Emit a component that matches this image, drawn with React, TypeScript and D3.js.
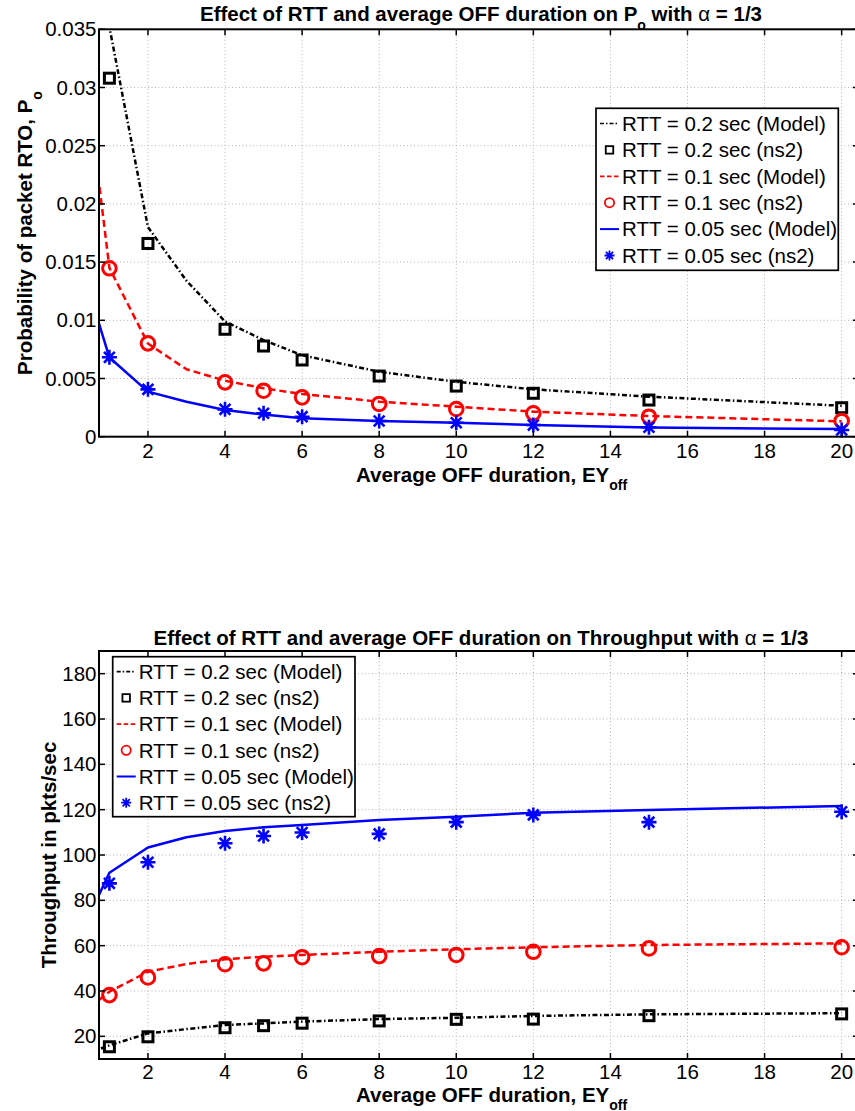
import React from "react";
import * as d3 from "d3";

// ---------- data ----------
const X_TICKS = [2, 4, 6, 8, 10, 12, 14, 16, 18, 20];
const NS2_X = [1, 2, 4, 5, 6, 8, 10, 12, 15, 20];
const MODEL_X = [0.5, 1, 2, 3, 4, 5, 6, 8, 10, 12, 15, 20];

const PO_TICKS = [0, 0.005, 0.01, 0.015, 0.02, 0.025, 0.03, 0.035];
const PO_MODEL_RTT02 = [0.07, 0.0352, 0.018, 0.0134, 0.0099, 0.0083, 0.007, 0.00558, 0.00472, 0.00407, 0.00344, 0.00266];
const PO_NS2_RTT02 = [0.0308, 0.0166, 0.00923, 0.00779, 0.00659, 0.00521, 0.00435, 0.00373, 0.00315, 0.00249];
const PO_MODEL_RTT01 = [0.028, 0.0145, 0.008, 0.00579, 0.00481, 0.00416, 0.00367, 0.00301, 0.00258, 0.00215, 0.00178, 0.00132];
const PO_NS2_RTT01 = [0.01447, 0.00802, 0.00467, 0.00395, 0.00338, 0.00281, 0.00238, 0.00201, 0.00172, 0.00135];
const PO_MODEL_RTT005 = [0.0122, 0.0068, 0.00387, 0.003, 0.00229, 0.0019, 0.00158, 0.00135, 0.0012, 0.001, 0.00079, 0.00066];
const PO_NS2_RTT005 = [0.00682, 0.00407, 0.00235, 0.00201, 0.00172, 0.00135, 0.0012, 0.001, 0.00081, 0.00058];

const TP_TICKS = [20, 40, 60, 80, 100, 120, 140, 160, 180];
const TP_MODEL_RTT02 = [12.9, 16.0, 21.3, 23.2, 25.0, 25.7, 26.5, 27.6, 28.2, 29.0, 29.7, 30.2];
const TP_NS2_RTT02 = [15.4, 19.8, 23.8, 24.7, 25.8, 26.8, 27.5, 27.6, 29.1, 29.9];
const TP_MODEL_RTT01 = [32.9, 39.7, 48.5, 51.9, 54.0, 55.1, 55.9, 57.3, 58.4, 59.3, 60.3, 61.0];
const TP_NS2_RTT01 = [38.2, 46.0, 51.8, 52.2, 54.9, 55.4, 55.9, 57.3, 58.8, 59.3];
const TP_MODEL_RTT005 = [74.1, 92.2, 103.3, 107.8, 110.6, 112.2, 113.2, 115.4, 116.9, 118.6, 119.9, 121.6];
const TP_NS2_RTT005 = [87.5, 96.8, 105.2, 108.4, 109.9, 109.3, 114.5, 117.7, 114.5, 119.1];

const LEGEND_LABELS = [
  "RTT = 0.2 sec (Model)",
  "RTT = 0.2 sec (ns2)",
  "RTT = 0.1 sec (Model)",
  "RTT = 0.1 sec (ns2)",
  "RTT = 0.05 sec (Model)",
  "RTT = 0.05 sec (ns2)",
];

// ---------- styles ----------
const FONT = "'Liberation Sans', Arial, Helvetica, sans-serif";
const FS = 20.5;
const BLACK = "#000000";
const RED = "#ff0000";
const BLUE = "#0000ff";
const X_DOMAIN = [0.73, 20.45];
const LEFT = 99;
const RIGHT = 859;

type Kind = "line" | "square" | "circle" | "star";
interface Series {
  kind: Kind;
  color: string;
  dash?: string;
  xs: number[];
  ys: number[];
}

const STYLES: { kind: Kind; color: string; dash?: string; legendDash?: string }[] = [
  { kind: "line", color: BLACK, dash: "5,2.5,1.5,2.5", legendDash: "4,2,1.5,2" },
  { kind: "square", color: BLACK },
  { kind: "line", color: RED, dash: "7,4", legendDash: "4.5,2.5" },
  { kind: "circle", color: RED },
  { kind: "line", color: BLUE },
  { kind: "star", color: BLUE },
];

function starPath(s: number) {
  const d = s * 0.72;
  return `M0,${-s}L0,${s}M${-s},0L${s},0M${-d},${-d}L${d},${d}M${-d},${d}L${d},${-d}`;
}

function Marker({ kind, color, cx, cy, big }: { kind: Kind; color: string; cx: number; cy: number; big: boolean }) {
  if (kind === "square") {
    const s = big ? 10 : 7.5;
    return <rect x={cx - s / 2} y={cy - s / 2} width={s} height={s} fill="none" stroke={color} strokeWidth={big ? 3 : 1.8} />;
  }
  if (kind === "circle") {
    return <circle cx={cx} cy={cy} r={big ? 6.8 : 4.6} fill="none" stroke={color} strokeWidth={big ? 3 : 1.8} />;
  }
  if (kind === "star") {
    return <path d={starPath(big ? 7.5 : 5)} transform={`translate(${cx},${cy})`} fill="none" stroke={color} strokeWidth={big ? 2.6 : 1.8} />;
  }
  return null;
}

interface PanelProps {
  id: string;
  top: number;
  bottom: number;
  yDomain: [number, number];
  yTicks: number[];
  series: Series[];
  title: React.ReactNode;
  titleY: number;
  ylabel: React.ReactNode;
  ylabelX: number;
  xLabelY: number;
  xTickY: number;
  legend: { x: number; y: number; w: number; h: number; row0: number; step: number };
}

function Panel(p: PanelProps) {
  const x = d3.scaleLinear().domain(X_DOMAIN).range([LEFT, RIGHT]);
  const y = d3.scaleLinear().domain(p.yDomain).range([p.bottom, p.top]);
  const line = d3
    .line<[number, number]>()
    .x((d) => x(d[0]))
    .y((d) => y(d[1]));
  const tick = 6;
  const lg = p.legend;
  return (
    <g>
      <defs>
        <clipPath id={p.id}>
          <rect x={LEFT} y={p.top} width={RIGHT - LEFT} height={p.bottom - p.top} />
        </clipPath>
      </defs>
      {/* grid */}
      <g stroke="#b4b4b4" strokeWidth={1} strokeDasharray="1,2.5">
        {X_TICKS.map((t) => (
          <line key={"gx" + t} x1={x(t)} x2={x(t)} y1={p.top} y2={p.bottom} />
        ))}
        {p.yTicks.map((t) => (
          <line key={"gy" + t} x1={LEFT} x2={RIGHT} y1={y(t)} y2={y(t)} />
        ))}
      </g>
      {/* data */}
      {p.series.map((s, i) =>
        s.kind === "line" ? (
          <path
            key={i}
            clipPath={`url(#${p.id})`}
            d={line(s.xs.map((xv, j) => [xv, s.ys[j]] as [number, number])) || ""}
            fill="none"
            stroke={s.color}
            strokeWidth={2.5}
            strokeDasharray={s.dash}
            strokeLinejoin="round"
          />
        ) : (
          <g key={i}>
            {s.xs.map((xv, j) => (
              <Marker key={j} kind={s.kind} color={s.color} cx={x(xv)} cy={y(s.ys[j])} big={true} />
            ))}
          </g>
        )
      )}
      {/* axes box and ticks */}
      <g stroke="#000" strokeWidth={1.5}>
        {X_TICKS.map((t) => (
          <g key={"tx" + t}>
            <line x1={x(t)} x2={x(t)} y1={p.bottom} y2={p.bottom - tick} />
            <line x1={x(t)} x2={x(t)} y1={p.top} y2={p.top + tick} />
          </g>
        ))}
        {p.yTicks.map((t) => (
          <g key={"ty" + t}>
            <line x1={LEFT} x2={LEFT + tick} y1={y(t)} y2={y(t)} />
            <line x1={RIGHT} x2={RIGHT - tick} y1={y(t)} y2={y(t)} />
          </g>
        ))}
        <rect x={LEFT} y={p.top} width={RIGHT - LEFT} height={p.bottom - p.top} fill="none" strokeWidth={2} />
      </g>
      {/* tick labels */}
      <g fontFamily={FONT} fontSize={FS} fill="#000">
        {X_TICKS.map((t) => (
          <text key={"lx" + t} x={x(t)} y={p.xTickY} textAnchor="middle">
            {String(t)}
          </text>
        ))}
        {p.yTicks.map((t) => (
          <text key={"ly" + t} x={96.5} y={y(t) + 7} textAnchor="end">
            {String(t)}
          </text>
        ))}
      </g>
      {/* labels */}
      <text x={481} y={p.titleY} textAnchor="middle" fontFamily={FONT} fontSize={FS} fontWeight="bold">
        {p.title}
      </text>
      <text x={356} y={p.xLabelY} fontFamily={FONT} fontSize={FS} fontWeight="bold">
        Average OFF duration, EY
        <tspan fontSize={14} dy={8}>
          off
        </tspan>
      </text>
      <text
        transform={`translate(${p.ylabelX},${(p.top + p.bottom) / 2}) rotate(-90)`}
        textAnchor="middle"
        fontFamily={FONT}
        fontSize={FS}
        fontWeight="bold"
      >
        {p.ylabel}
      </text>
      {/* legend */}
      <g>
        <rect x={lg.x} y={lg.y} width={lg.w} height={lg.h} fill="#fff" stroke="#000" strokeWidth={1.7} />
        {STYLES.map((st, i) => {
          const cy = lg.row0 + i * lg.step;
          const lx0 = lg.x + 4;
          const lx1 = lg.x + 23;
          return (
            <g key={"lg" + i}>
              {st.kind === "line" ? (
                <line x1={lx0} x2={lx1} y1={cy} y2={cy} stroke={st.color} strokeWidth={st.color === BLUE ? 2 : 1.7} strokeDasharray={st.legendDash} />
              ) : (
                <Marker kind={st.kind} color={st.color} cx={(lx0 + lx1) / 2} cy={cy} big={false} />
              )}
              <text x={lg.x + 26} y={cy + 7.3} fontFamily={FONT} fontSize={FS}>
                {LEGEND_LABELS[i]}
              </text>
            </g>
          );
        })}
      </g>
    </g>
  );
}

function buildSeries(model02: number[], ns02: number[], model01: number[], ns01: number[], model005: number[], ns005: number[]): Series[] {
  const vals = [model02, ns02, model01, ns01, model005, ns005];
  return STYLES.map((st, i) => ({
    kind: st.kind,
    color: st.color,
    dash: st.dash,
    xs: st.kind === "line" ? MODEL_X : NS2_X,
    ys: vals[i],
  }));
}

export default function App() {
  const poSeries = buildSeries(PO_MODEL_RTT02, PO_NS2_RTT02, PO_MODEL_RTT01, PO_NS2_RTT01, PO_MODEL_RTT005, PO_NS2_RTT005);
  const tpSeries = buildSeries(TP_MODEL_RTT02, TP_NS2_RTT02, TP_MODEL_RTT01, TP_NS2_RTT01, TP_MODEL_RTT005, TP_NS2_RTT005);
  return (
    <svg
      width={855}
      height={1111}
      style={{ position: "absolute", left: 0, top: 0, background: "#fff", display: "block" }}
    >
      <rect x={0} y={0} width={855} height={1111} fill="#fff" />
      <Panel
        id="clipTop"
        top={29.3}
        bottom={436.7}
        yDomain={[0, 0.035]}
        yTicks={PO_TICKS}
        series={poSeries}
        titleY={21}
        title={
          <>
            Effect of RTT and average OFF duration on P
            <tspan fontSize={14} dy={9}>
              o
            </tspan>
            <tspan dy={-9}> with </tspan>
            <tspan fontWeight="normal">α</tspan> = 1/3
          </>
        }
        ylabel={
          <>
            Probability of packet RTO, P
            <tspan fontSize={14} dy={10}>
              o
            </tspan>
          </>
        }
        ylabelX={32}
        xLabelY={481.5}
        xTickY={457.5}
        legend={{ x: 596, y: 108.3, w: 242.3, h: 162, row0: 123.5, step: 26.4 }}
      />
      <Panel
        id="clipBottom"
        top={651}
        bottom={1059}
        yDomain={[10, 190]}
        yTicks={TP_TICKS}
        series={tpSeries}
        titleY={645}
        title={
          <>
            Effect of RTT and average OFF duration on Throughput with <tspan fontWeight="normal">α</tspan> = 1/3
          </>
        }
        ylabel={<>Throughput in pkts/sec</>}
        ylabelX={55.5}
        xLabelY={1101.5}
        xTickY={1078.5}
        legend={{ x: 112.7, y: 656.7, w: 242.3, h: 160, row0: 671.7, step: 26.2 }}
      />
    </svg>
  );
}
